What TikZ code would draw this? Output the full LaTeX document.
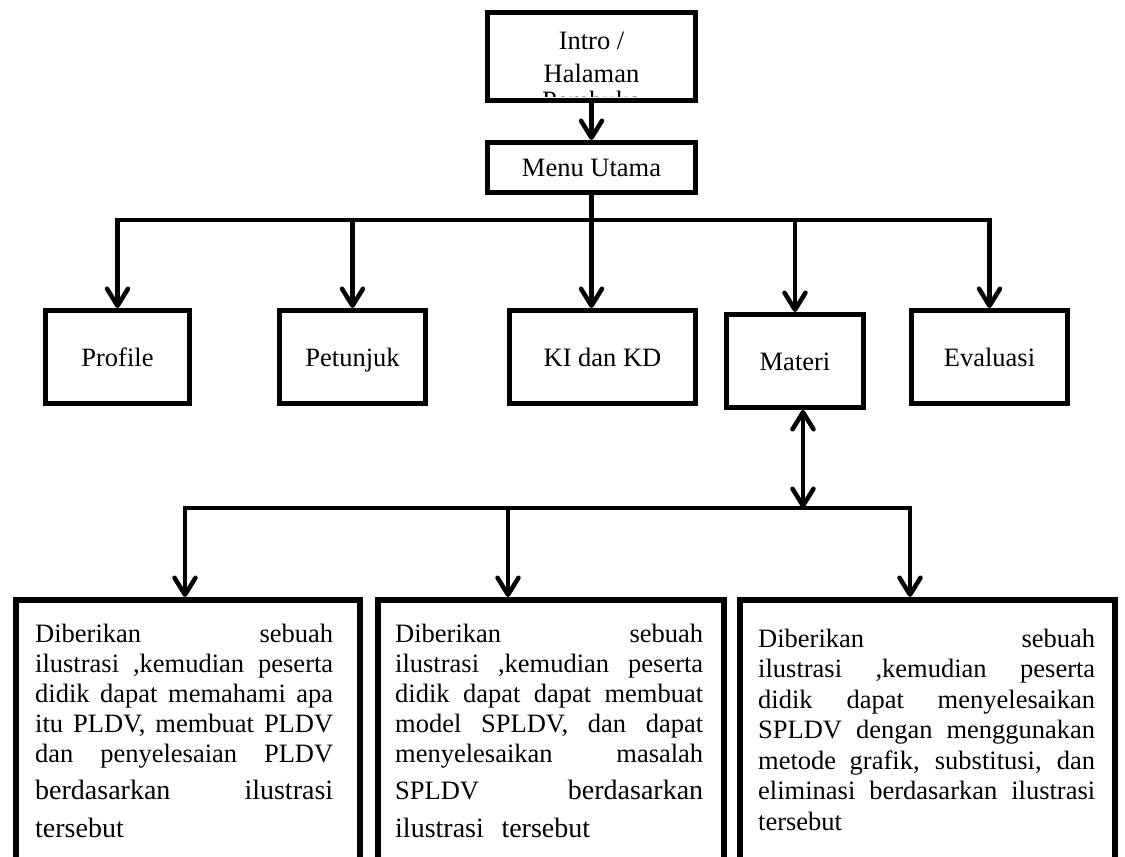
\documentclass[tikz,border=0pt]{standalone}
\usepackage{fontspec}
\setmainfont{Liberation Serif}
\usetikzlibrary{arrows.meta, positioning}

\newcommand{\ketfont}{\fontsize{26.5}{30}\selectfont}
\newcommand{\ketbesar}{\fontsize{28}{37.5}\selectfont}
\newcommand{\jline}[1]{\hbox to \hsize{\spaceskip=0.25em plus 1fil\relax #1}\par}

\begin{document}
\begin{tikzpicture}[x=1pt, y=-1pt,
    kotak/.style={draw, line width=5pt, inner sep=0pt, text height=18pt, text depth=0pt, font=\ketfont},
    isi/.style={draw, line width=6pt, inner sep=0pt, minimum width=#1, minimum height=300pt},
    ket/.style={anchor=base west, inner sep=0pt, font=\ketfont, text width=#1},
    garis/.style={line width=4.5pt, line cap=rect},
    panah/.style={line width=4.5pt, -{Straight Barb[length=17pt, width=21pt, round]}},
    panahdua/.style={line width=4.5pt, {Straight Barb[length=17pt, width=21pt, round]}-{Straight Barb[length=17pt, width=21pt, round]}}]
    \clip (0,0) rectangle (1125,857);
    \fill[white] (0,0) rectangle (1125,857);
    % intro, text cut off by the box
    \begin{scope}
      \clip (490,15) rectangle (693,96);
      \node[anchor=north, inner sep=0pt, align=center, font=\ketfont] (introtxt) at (591.5,32) {Intro /\\[3pt]Halaman\\[-3pt]Pembuka};
    \end{scope}
    \node[kotak, minimum width=208pt, minimum height=88pt] (intro) at (591.5,56.5) {};
    \node[kotak, minimum width=208pt, minimum height=50pt] (menu) at (591.5,167.5) {Menu Utama};
    %
    \node[kotak, minimum width=144pt, minimum height=93pt] (profile) at (117.5,357) {Profile};
    \node[kotak, minimum width=146pt, minimum height=93pt] (petunjuk) at (352.5,357) {Petunjuk};
    \node[kotak, minimum width=186pt, minimum height=93pt] (kikd) at (602.5,357) {KI dan KD};
    \node[kotak, minimum width=137pt, minimum height=93pt] (materi) at (795,361) {Materi};
    \node[kotak, minimum width=156pt, minimum height=93pt] (evaluasi) at (989.5,357) {Evaluasi};
    %
    \draw[panah] (intro.south) -- (menu.north);
    \coordinate (bar) at (0,220);
    \draw[garis] (profile.north |- bar) -- (evaluasi.north |- bar);
    \draw[panah] (menu.south) -- (menu.south |- kikd.north);
    \draw[panah] (profile.north |- bar) -- (profile.north);
    \draw[panah] (petunjuk.north |- bar) -- (petunjuk.north);
    \draw[panah] (materi.north |- bar) -- (materi.north);
    \draw[panah] (evaluasi.north |- bar) -- (evaluasi.north);
    %
    \node[isi=344pt] (isisatu) at (188,750) {};
    \node[isi=346pt] (isidua) at (551,750) {};
    \node[isi=375pt] (isitiga) at (927.5,750) {};
    \coordinate (c1) at (185,508);
    \coordinate (c2) at (508,508);
    \coordinate (c3) at (910,508);
    \draw[panahdua] ([xshift=8pt]materi.south) -- ([xshift=8pt]materi.south |- c1);
    \draw[garis] (c1) -- (c3);
    \draw[panah] (c1) -- (c1 |- isisatu.north);
    \draw[panah] (c2) -- (c2 |- isidua.north);
    \draw[panah] (c3) -- (c3 |- isitiga.north);
    %
    \node[ket=298pt] (ketsatu) at (35,642) {%
      \jline{Diberikan sebuah}
      \jline{ilustrasi ,kemudian peserta}
      \jline{didik dapat memahami apa}
      \jline{itu PLDV, membuat PLDV}
      \jline{dan penyelesaian PLDV}
      {\ketbesar\jline{berdasarkan ilustrasi}}
      {\ketbesar tersebut\par}};
    \node[ket=308pt] (ketdua) at (395,642) {%
      \jline{Diberikan sebuah}
      \jline{ilustrasi ,kemudian peserta}
      \jline{didik dapat dapat membuat}
      \jline{model SPLDV, dan dapat}
      \jline{menyelesaikan masalah}
      {\ketbesar\jline{{\ketfont SPLDV}\hfill berdasarkan}}
      {\ketbesar ilustrasi\ \ tersebut\par}};
    \node[ket=337pt, font=\fontsize{26.5}{30.5}\selectfont] (kettiga) at (758,647) {%
      \jline{Diberikan sebuah}
      \jline{ilustrasi ,kemudian peserta}
      \jline{didik dapat menyelesaikan}
      \jline{SPLDV dengan menggunakan}
      \jline{metode grafik, substitusi, dan}
      \jline{eliminasi berdasarkan ilustrasi}
      tersebut\par};
\end{tikzpicture}
\end{document}
